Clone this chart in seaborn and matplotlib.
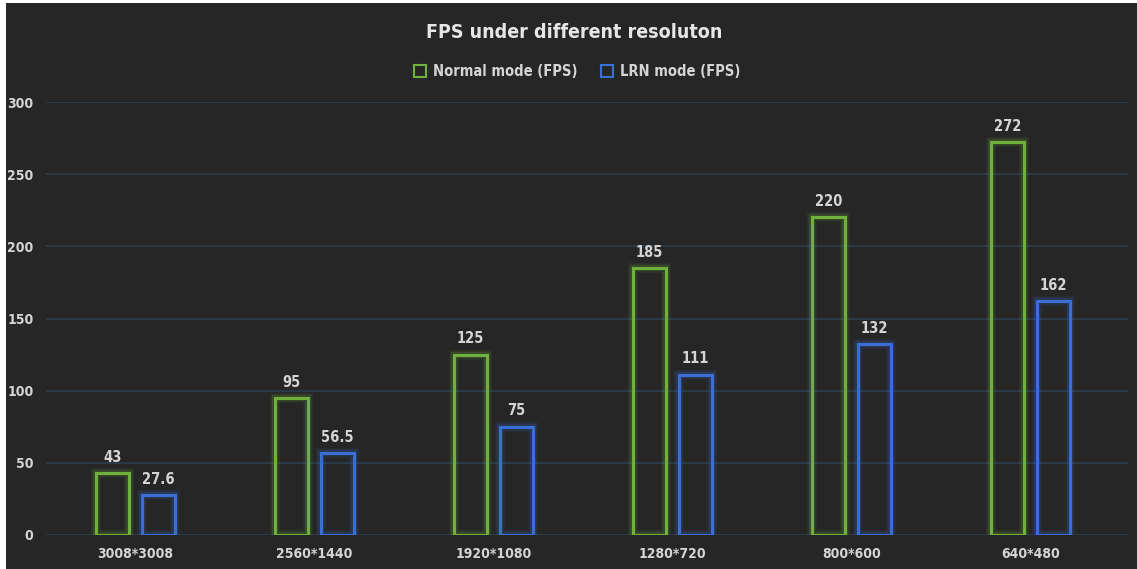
import matplotlib
matplotlib.use("Agg")
import matplotlib.pyplot as plt
import matplotlib.patheffects as pe
from matplotlib.patches import Rectangle
from matplotlib.lines import Line2D
import seaborn as sns
import pandas as pd

resolutions = ["3008*3008", "2560*1440", "1920*1080", "1280*720", "800*600", "640*480"]
normal_fps = [43, 95, 125, 185, 220, 272]
lrn_fps = [27.6, 56.5, 75, 111, 132, 162]
series_names = ["Normal mode (FPS)", "LRN mode (FPS)"]
y_ticks = [0, 50, 100, 150, 200, 250, 300]

GREEN = "#6fb13c"
BLUE = "#3a6fd6"
BG = "#262626"
TXT = "#d4d4d4"
GRID = "#2b3d4d"

df = pd.DataFrame({
    "res": resolutions * 2,
    "fps": normal_fps + lrn_fps,
    "mode": [series_names[0]] * len(resolutions) + [series_names[1]] * len(resolutions),
})

sns.set_theme(style="dark")
plt.rcParams["font.family"] = ["DejaVu Sans"]
plt.rcParams["font.stretch"] = "condensed"

W, H = 1137, 569
fig = plt.figure(figsize=(W / 100, H / 100), dpi=100, facecolor="white")
fig.patches.append(Rectangle((6 / W, 0), 1 - 6 / W, 1 - 3 / H, transform=fig.transFigure,
                             facecolor=BG, edgecolor="none", zorder=-10))
ax = fig.add_axes([46 / W, 34 / H, (1128 - 46) / W, (535 - 102) / H])
ax.set_facecolor(BG)

sns.barplot(data=df, x="res", y="fps", hue="mode", palette=[GREEN, BLUE],
            order=resolutions, hue_order=series_names, fill=False,
            width=0.51, gap=0.28, linewidth=2.0, errorbar=None, legend=False, ax=ax)

for c, col in zip(ax.containers, [GREEN, BLUE]):
    for bar in c:
        bar.set_path_effects([pe.withStroke(linewidth=7, foreground=col, alpha=0.10),
                              pe.withStroke(linewidth=4.5, foreground=col, alpha=0.18),
                              pe.Normal()])
        bar.set_zorder(3)
    labels = [f"{v:g}" for v in c.datavalues]
    ax.bar_label(c, labels=labels, padding=6, color=TXT, fontsize=10.5, fontweight="bold")

ax.set_ylim(0, 300)
ax.set_xlim(-0.5, 5.5 + 8 / 179.5)
ax.set_yticks(y_ticks)
ax.grid(axis="y", color=GRID, linewidth=1.2)
ax.grid(axis="x", visible=False)
ax.set_axisbelow(True)
for s in ax.spines.values():
    s.set_visible(False)
ax.tick_params(axis="both", length=0, colors=TXT, labelsize=10)
ax.tick_params(axis="y", pad=9)
ax.tick_params(axis="x", pad=9)
for lab in ax.get_xticklabels() + ax.get_yticklabels():
    lab.set_fontweight("bold")
ax.set_xlabel("")
ax.set_ylabel("")

fig.text(574 / W, 1 - 33 / H, "FPS under different resoluton", ha="center", va="center",
         color="#e6e6e6", fontsize=14, fontweight="bold")

handles = [Line2D([], [], marker="s", linestyle="none", markerfacecolor="none",
                  markeredgecolor=col, markersize=8, markeredgewidth=1.5) for col in [GREEN, BLUE]]
leg = fig.legend(handles, series_names, loc="center", bbox_to_anchor=(576 / W, 1 - 72 / H),
                 ncol=2, frameon=False, handletextpad=0.3, columnspacing=1.4,
                 handlelength=1.2, prop={"size": 10.5, "weight": "bold"})
for t in leg.get_texts():
    t.set_color(TXT)

fig.savefig("out.png", dpi=100, facecolor="white")
